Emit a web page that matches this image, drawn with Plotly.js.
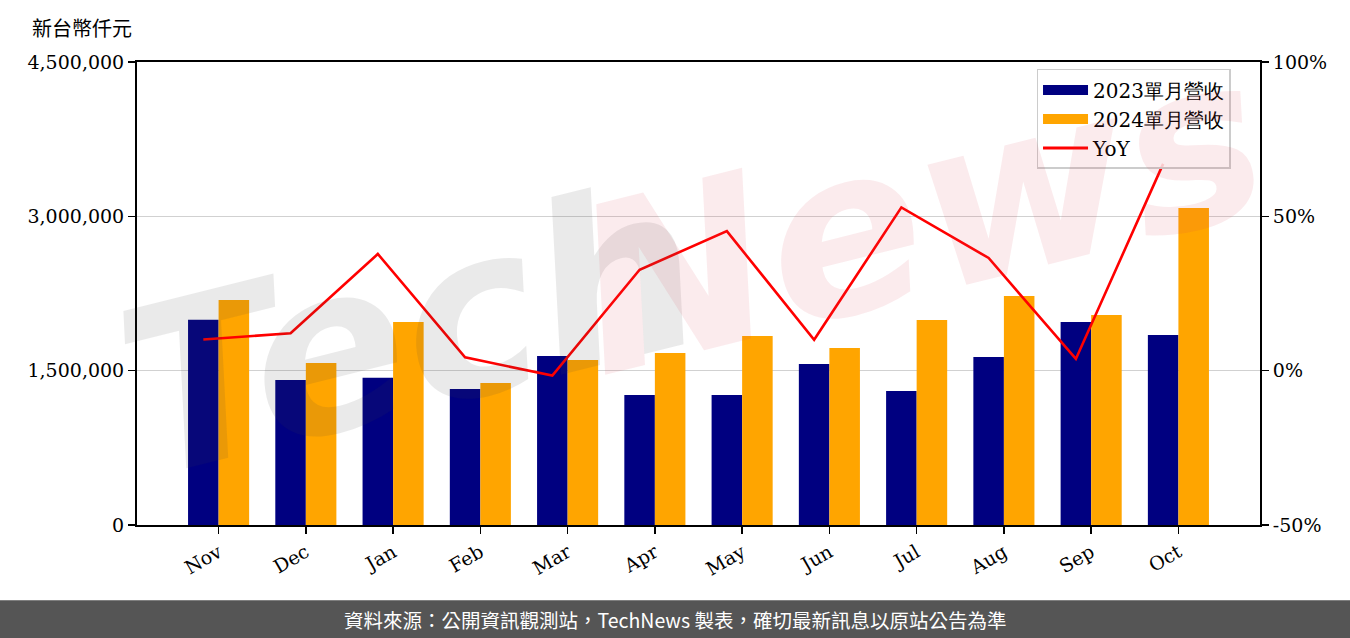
<!DOCTYPE html>
<html>
<head>
<meta charset="utf-8">
<script src="https://cdn.plot.ly/plotly-3.0.1.min.js"></script>
<style>
html,body{margin:0;padding:0;background:#fff;}
#chart{width:1350px;height:638px;}
</style>
</head>
<body>
<div id="chart"></div>
<script>
// ---- data ----
const months = ["Nov","Dec","Jan","Feb","Mar","Apr","May","Jun","Jul","Aug","Sep","Oct"];
const rev2023 = [1995000,1410000,1430000,1322000,1642000,1263000,1263000,1565000,1302000,1633000,1973000,1846000];
const rev2024 = [2187000,1574000,1973000,1380000,1604000,1672000,1837000,1720000,1992000,2225000,2041000,3081000];
const yoy = [10.1,12.1,37.8,4.3,-1.6,32.7,45.2,10.0,52.9,36.5,3.8,67.0];
const leftTicks = [0,1500000,3000000,4500000];
const leftTickText = ["0","1,500,000","3,000,000","4,500,000"];
const rightTicks = [-50,0,50,100];
const rightTickText = ["-50%","0%","50%","100%"];
const seriesNames = ["2023單月營收","2024單月營收","YoY"];
const seriesColors = ["#000080","#FFA500","#FF0000"];

const serif = "DejaVu Serif, Liberation Serif, serif";
const cjk = "Noto Sans CJK TC, Noto Sans, sans-serif";

const traces = [
  {type:"bar", name:seriesNames[0], x:months, y:rev2023, marker:{color:seriesColors[0]}, xaxis:"x", yaxis:"y", showlegend:false},
  {type:"bar", name:seriesNames[1], x:months, y:rev2024, marker:{color:seriesColors[1]}, xaxis:"x", yaxis:"y", showlegend:false},
  {type:"scatter", mode:"lines", name:seriesNames[2], x:months, y:yoy, line:{color:seriesColors[2], width:2.6}, xaxis:"x2", yaxis:"y2", showlegend:false},
  // legend entries (patch style)
  {type:"scatter", mode:"lines", name:seriesNames[0], x:[null], y:[null], line:{color:seriesColors[0], width:17}, xaxis:"x", yaxis:"y"},
  {type:"scatter", mode:"lines", name:seriesNames[1], x:[null], y:[null], line:{color:seriesColors[1], width:17}, xaxis:"x", yaxis:"y"},
  {type:"scatter", mode:"lines", name:seriesNames[2], x:[null], y:[null], line:{color:seriesColors[2], width:3}, xaxis:"x", yaxis:"y"}
];

const axisCommon = {
  showline:true, linecolor:"#000", linewidth:2,
  ticks:"outside", ticklen:7, tickwidth:1.5, tickcolor:"#000",
  tickfont:{family:serif, size:19, color:"#000"}, zeroline:false
};

const layout = {
  width:1350, height:638,
  margin:{l:137, r:90, t:62, b:113},
  paper_bgcolor:"#fff", plot_bgcolor:"rgba(0,0,0,0)",
  barmode:"group", bargap:0.3, bargroupgap:0,
  showlegend:true,
  legend:{x:0.801, y:0.985, xanchor:"left", yanchor:"top",
    font:{family:serif, size:20, color:"#000"},
    bgcolor:"rgba(255,255,255,0.85)", bordercolor:"#cccccc", borderwidth:1.5,
    tracegroupgap:0, itemwidth:45},
  font:{family:serif, size:19, color:"#000"},
  xaxis:Object.assign({}, axisCommon, {
    type:"category", range:[-0.935,11.935], mirror:true,
    tickangle:-30, showgrid:false
  }),
  xaxis2:{type:"category", overlaying:"x", range:[-0.935+0.175,11.935+0.175], visible:false, showgrid:false},
  yaxis:Object.assign({}, axisCommon, {
    range:[0,4500000], tickvals:leftTicks, ticktext:leftTickText, showgrid:false
  }),
  yaxis2:Object.assign({}, axisCommon, {
    overlaying:"y", side:"right",
    range:[-50,100], tickvals:rightTicks, ticktext:rightTickText,
    showgrid:true, gridcolor:"rgba(190,190,190,0.7)", gridwidth:1.5
  }),
  shapes:[
    {type:"rect", xref:"paper", yref:"paper", x0:-0.13, x1:1.09, y0:-0.1625, y1:-0.26,
     fillcolor:"#555555", line:{width:0}, layer:"above"}
  ],
  annotations:[
    {text:"新台幣仟元", xref:"paper", yref:"paper", x:(30-137)/1123, y:(525-27)/463, xanchor:"left", yanchor:"middle",
     showarrow:false, font:{family:cjk, size:20, color:"#000"}},
    {text:"資料來源：公開資訊觀測站，TechNews 製表，確切最新訊息以原站公告為準", xref:"paper", yref:"paper",
     x:(675-137)/1123, y:(525-619)/463, xanchor:"center", yanchor:"middle", showarrow:false,
     font:{family:cjk, size:19.5, color:"#ffffff"}},
    {text:"<b><i>Tech</i></b>", xref:"paper", yref:"paper", x:(410-137)/1123, y:(525-330)/463,
     xanchor:"center", yanchor:"middle",
     showarrow:false, textangle:-14, font:{family:"DejaVu Sans", size:230, color:"rgba(60,60,60,0.11)"}},
    {text:"<b><i>News</i></b>", xref:"paper", yref:"paper", x:(920-137)/1123, y:(525-215)/463,
     xanchor:"center", yanchor:"middle",
     showarrow:false, textangle:-14, font:{family:"DejaVu Sans", size:230, color:"rgba(220,60,80,0.10)"}}
  ]
};

Plotly.newPlot("chart", traces, layout, {displayModeBar:false, staticPlot:true});
</script>
</body>
</html>
